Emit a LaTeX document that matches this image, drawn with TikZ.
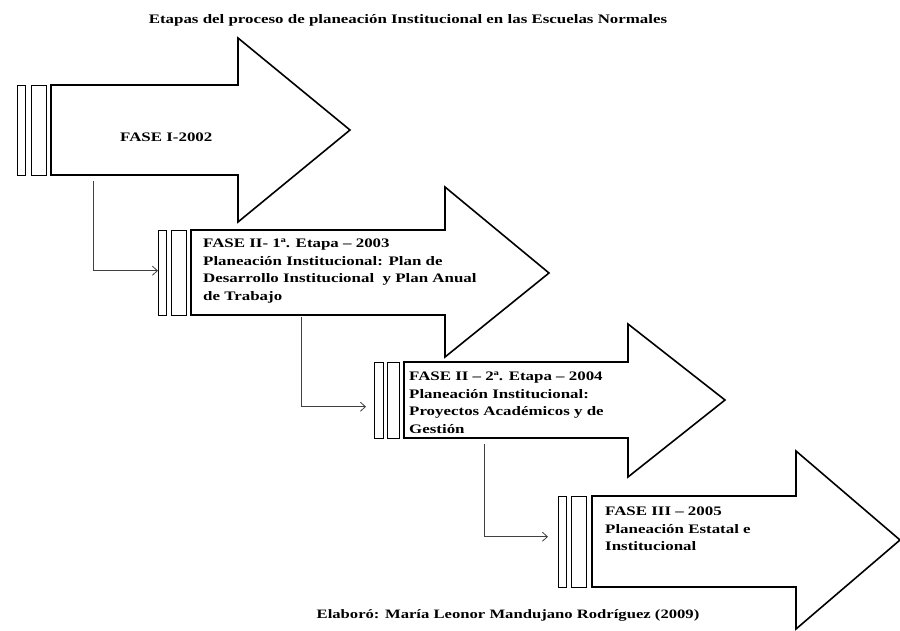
\documentclass[tikz,border=0pt]{standalone}
\usepackage{fontspec}
\setmainfont{Liberation Serif}[FakeStretch=1.3]
\usetikzlibrary{arrows.meta}

\begin{document}
\begin{tikzpicture}[x=1pt,y=-1pt,
    flecha/.style={line width=1.6pt, line join=miter},
    barra/.style={draw, line width=1.4pt, inner sep=0pt, anchor=north west},
    texto/.style={font=\fontsize{13}{17.5}\selectfont\bfseries, align=left, anchor=north west, inner sep=0pt},
    enlace/.style={-{Straight Barb[length=5pt,width=9pt]}, draw=black!75, line width=0.8pt}]
    \useasboundingbox (0,0) rectangle (900,630);
    \node[font=\fontsize{13}{15}\selectfont\bfseries, anchor=base] (titulo) at (408,23) {Etapas del proceso de planeación Institucional en las Escuelas Normales};
    \draw[flecha] (51,85) -- (238,85) -- (238,38) -- (350,130) -- (238,222) -- (238,175) -- (51,175) -- cycle;
    \node[barra, minimum width=8pt, minimum height=90pt] (b1a) at (17,85) {};
    \node[barra, minimum width=15pt, minimum height=90pt] (b1b) at (31,85) {};
    \node[texto, anchor=base west] (fase1) at (120,141) {FASE I-2002};
    \draw[flecha] (191,230) -- (445,230) -- (445,187) -- (549,273) -- (445,357) -- (445,315) -- (191,315) -- cycle;
    \node[barra, minimum width=8pt, minimum height=85pt] (b2a) at (158,230) {};
    \node[barra, minimum width=15pt, minimum height=85pt] (b2b) at (171,230) {};
    \node[texto] (fase2) at (203,239) {FASE II- 1ª. Etapa – 2003\\Planeación Institucional: Plan de\\Desarrollo Institucional~ y Plan Anual\\de Trabajo};
    \draw[flecha] (404,362) -- (628,362) -- (628,324) -- (725,400) -- (628,477) -- (628,438) -- (404,438) -- cycle;
    \node[barra, minimum width=9pt, minimum height=76pt] (b3a) at (374,362) {};
    \node[barra, minimum width=12pt, minimum height=76pt] (b3b) at (387,362) {};
    \node[texto] (fase3) at (409,372) {FASE II – 2ª. Etapa – 2004\\Planeación Institucional:\\Proyectos Académicos y de\\Gestión};
    \draw[flecha] (592,496) -- (796,496) -- (796,451) -- (900,540) -- (796,629) -- (796,587) -- (592,587) -- cycle;
    \node[barra, minimum width=8pt, minimum height=91pt] (b4a) at (558,496) {};
    \node[barra, minimum width=15pt, minimum height=91pt] (b4b) at (571,496) {};
    \node[texto] (fase4) at (605,507) {FASE III – 2005\\Planeación Estatal e\\Institucional};
    \coordinate (s1) at (93,181);
    \coordinate (s2) at (301,317);
    \coordinate (s3) at (484,444);
    \draw[enlace] (s1) |- ([yshift=2.5pt]b2a.west);
    \draw[enlace, shorten >=8pt] (s2) |- ([yshift=-6pt]b3a.west);
    \draw[enlace, shorten >=10pt] (s3) |- ([yshift=5.5pt]b4a.west);
    \node[font=\fontsize{12.8}{15}\selectfont\bfseries, anchor=base] (autor) at (508,618) {Elaboró: María Leonor Mandujano Rodríguez (2009)};
\end{tikzpicture}
\end{document}
